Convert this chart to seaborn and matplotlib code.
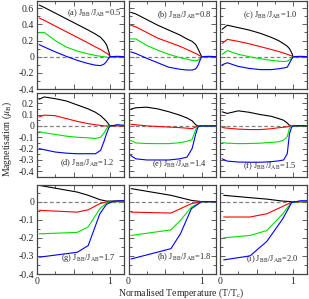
import numpy as np
import pandas as pd
import matplotlib
matplotlib.use("Agg")
import matplotlib.pyplot as plt
import seaborn as sns
from matplotlib.ticker import MultipleLocator, FuncFormatter

# normalised temperature points (rows 1 and 2)
T = [0.03, 0.1, 0.25, 0.4, 0.55, 0.7, 0.8, 0.87, 0.92, 0.95, 0.98, 1.0, 1.1, 1.2]

# magnetisation curves, order: black, red, green, blue
mag_a = [[0.64, 0.61, 0.54, 0.47, 0.40, 0.33, 0.28, 0.24, 0.19, 0.15, 0.07, 0.0, 0.0, 0.0],
         [0.48, 0.45, 0.38, 0.31, 0.24, 0.17, 0.12, 0.09, 0.06, 0.045, 0.025, 0.0, 0.0, 0.0],
         [0.30, 0.30, 0.20, 0.12, 0.07, 0.035, 0.015, 0.005, 0.0, -0.005, -0.01, -0.005, 0.0, 0.0],
         [0.15, 0.12, 0.06, 0.005, -0.045, -0.085, -0.105, -0.11, -0.09, -0.06, -0.02, 0.0, 0.005, 0.0]]
mag_b = [[0.55, 0.53, 0.46, 0.39, 0.33, 0.27, 0.22, 0.19, 0.15, 0.10, 0.04, 0.0, 0.0, 0.0],
         [0.39, 0.37, 0.30, 0.23, 0.18, 0.13, 0.09, 0.06, 0.04, 0.025, 0.01, 0.0, 0.0, 0.0],
         [0.22, 0.22, 0.14, 0.08, 0.03, -0.01, -0.03, -0.045, -0.05, -0.045, -0.02, 0.0, 0.0, 0.0],
         [0.06, 0.04, -0.02, -0.075, -0.13, -0.155, -0.165, -0.165, -0.15, -0.11, -0.04, 0.0, 0.005, 0.0]]
mag_c = [[0.34, 0.39, 0.36, 0.33, 0.29, 0.24, 0.20, 0.16, 0.13, 0.10, 0.05, 0.0, 0.0, 0.0],
         [0.165, 0.215, 0.19, 0.16, 0.125, 0.09, 0.065, 0.045, 0.03, 0.02, 0.01, 0.0, 0.0, 0.0],
         [0.03, 0.075, 0.03, 0.0, -0.025, -0.045, -0.055, -0.06, -0.055, -0.04, -0.02, 0.0, 0.0, 0.0],
         [-0.10, -0.075, -0.12, -0.145, -0.16, -0.16, -0.15, -0.14, -0.13, -0.08, -0.03, 0.0, 0.005, 0.0]]
mag_d = [[0.235, 0.255, 0.24, 0.22, 0.185, 0.15, 0.12, 0.09, 0.06, 0.04, 0.015, 0.0, 0.005, 0.0],
         [0.08, 0.095, 0.09, 0.065, 0.04, 0.02, 0.01, 0.005, 0.0, 0.0, 0.0, 0.0, 0.0, 0.0],
         [-0.05, -0.06, -0.075, -0.09, -0.10, -0.105, -0.11, -0.10, -0.06, -0.025, -0.005, 0.0, 0.005, 0.0],
         [-0.20, -0.21, -0.23, -0.24, -0.245, -0.245, -0.245, -0.215, -0.13, -0.07, -0.02, 0.0, 0.01, 0.005]]
mag_e = [[0.147, 0.16, 0.165, 0.15, 0.125, 0.095, 0.07, 0.045, 0.01, 0.0, 0.0, 0.0, 0.0, 0.0],
         [0.015, 0.01, 0.0, -0.005, -0.01, -0.015, -0.02, -0.024, -0.01, 0.0, 0.0, 0.0, 0.0, 0.0],
         [-0.127, -0.15, -0.155, -0.156, -0.156, -0.148, -0.135, -0.12, -0.03, -0.005, 0.0, 0.0, 0.0, 0.0],
         [-0.26, -0.29, -0.30, -0.30, -0.30, -0.29, -0.275, -0.20, -0.07, -0.01, 0.0, 0.0, 0.0, 0.0]]
mag_f = [[0.124, 0.11, 0.133, 0.12, 0.10, 0.085, 0.065, 0.05, 0.025, 0.006, 0.0, 0.0, 0.0, 0.0],
         [-0.014, -0.02, -0.028, -0.032, -0.032, -0.025, -0.016, -0.012, -0.008, 0.0, 0.0, 0.0, 0.0, 0.0],
         [-0.147, -0.152, -0.156, -0.155, -0.152, -0.145, -0.14, -0.125, -0.095, -0.02, 0.0, 0.0, 0.0, 0.0],
         [-0.29, -0.31, -0.318, -0.32, -0.32, -0.315, -0.308, -0.30, -0.245, -0.07, -0.01, 0.0, 0.003, 0.0]]

# row 3 panels have coarser temperature grids
T_g = [0.03, 0.55, 0.7, 0.86, 0.95, 1.05, 1.2]
mag_g = [[0.09, 0.053, 0.035, 0.011, 0.003, 0.003, 0.005],
         [-0.048, -0.058, -0.045, -0.011, -0.002, 0.0, 0.0],
         [-0.178, -0.17, -0.14, -0.039, -0.008, 0.0, 0.0],
         [-0.307, -0.28, -0.243, -0.067, -0.015, 0.003, 0.005]]
T_h = [0.035, 0.58, 0.71, 0.86, 1.0, 1.1, 1.2]
mag_h = [[0.072, 0.035, 0.022, 0.007, 0.0, 0.0, 0.0],
         [-0.058, -0.063, -0.039, -0.011, 0.0, 0.0, 0.0],
         [-0.187, -0.156, -0.104, -0.03, 0.0, 0.0, 0.0],
         [-0.317, -0.26, -0.178, -0.039, 0.0, 0.0, 0.0]]
T_i = [0.05, 0.41, 0.64, 0.86, 0.98, 1.1, 1.2]
mag_i = [[0.035, 0.022, 0.014, 0.003, 0.0, 0.0, 0.0],
         [-0.085, -0.085, -0.067, -0.026, -0.003, 0.0, 0.0],
         [-0.20, -0.187, -0.16, -0.067, -0.003, 0.0, 0.0],
         [-0.322, -0.30, -0.22, -0.094, -0.005, 0.005, 0.005]]

ratios = ["0.5", "0.8", "1.0", "1.2", "1.4", "1.5", "1.7", "1.8", "2.0"]
letters = ["a", "b", "c", "d", "e", "f", "g", "h", "i"]
colors = ["black", "red", "#00e000", "blue"]

temps = [T, T, T, T, T, T, T_g, T_h, T_i]
mags = [mag_a, mag_b, mag_c, mag_d, mag_e, mag_f, mag_g, mag_h, mag_i]

sns.set_theme(style="ticks")
plt.rcParams["font.family"] = ["Liberation Serif", "DejaVu Serif"]
plt.rcParams["mathtext.fontset"] = "stix"
plt.rcParams["axes.unicode_minus"] = False

W, H = 309, 299
fig = plt.figure(figsize=(W / 100, H / 100), dpi=100)

# panel rectangles in pixels (left, top, width, height)
col_left = [37, 128.5, 220]
row_top = [1, 93, 185]
row_h = [88, 84, 89]
pw = 87
ylims = [(-0.4, 0.69), (-0.45, 0.29), (-0.4, 0.092)]
ymajor = [0.2, 0.1, 0.1]
yminor = [0.1, 0.05, 0.05]
lab_x = [0.97, 0.95, 0.89, 0.89, 0.90, 0.88, 0.90, 0.95, 0.90]
lab_y = [0.86, 0.84, 0.84, 0.17, 0.15, 0.13, 0.18, 0.19, 0.17]


def yfmt(v, pos):
    if abs(v) < 1e-9:
        return "0"
    return f"{v:.1f}"


def xfmt(v, pos):
    if abs(v) < 1e-9:
        return "0"
    if abs(v - 1) < 1e-9:
        return "1"
    return ""


for k in range(9):
    r, c = divmod(k, 3)
    l = col_left[c]
    t = row_top[r]
    h = row_h[r]
    ax = fig.add_axes([l / W, 1 - (t + h) / H, pw / W, h / H])
    ax.axhline(0, color="grey", ls="--", lw=0.9, dashes=(3, 2))
    for s in range(4):
        df = pd.DataFrame({"T": temps[k], "M": mags[k][s]})
        sns.lineplot(data=df, x="T", y="M", color=colors[s], lw=0.8, ax=ax)
    ax.set_xlim(0, 1.19)
    ax.set_ylim(*ylims[r])
    ax.xaxis.set_major_locator(MultipleLocator(0.5))
    ax.xaxis.set_minor_locator(MultipleLocator(0.25))
    ax.yaxis.set_major_locator(MultipleLocator(ymajor[r]))
    ax.yaxis.set_minor_locator(MultipleLocator(yminor[r]))
    ax.tick_params(which="both", direction="in", top=True, right=True,
                   labelsize=7, pad=2, color="#444444", width=0.6)
    ax.tick_params(which="major", length=3.5)
    ax.tick_params(which="minor", length=2)
    ax.xaxis.set_major_formatter(FuncFormatter(xfmt))
    ax.yaxis.set_major_formatter(FuncFormatter(yfmt))
    if c > 0:
        ax.set_yticklabels([])
    if r < 2:
        ax.set_xticklabels([])
    ax.set_xlabel("")
    ax.set_ylabel("")
    for sp in ax.spines.values():
        sp.set_linewidth(0.9)
        sp.set_color("#444444")
    ax.text(lab_x[k], lab_y[k],
            "(" + letters[k] + r") J$_{\rm BB}$/J$_{\rm AB}$=" + ratios[k],
            transform=ax.transAxes, ha="right", va="center", fontsize=6)

fig.text(0.022, 0.535, r"Magnetisation ($\mu_{\rm B}$)", rotation=90,
         ha="center", va="center", fontsize=7)
fig.text(0.587, 0.019, r"Normalised Temperature (T/T$_{\rm c}$)",
         ha="center", va="center", fontsize=7)

fig.savefig("out.png", dpi=100)
